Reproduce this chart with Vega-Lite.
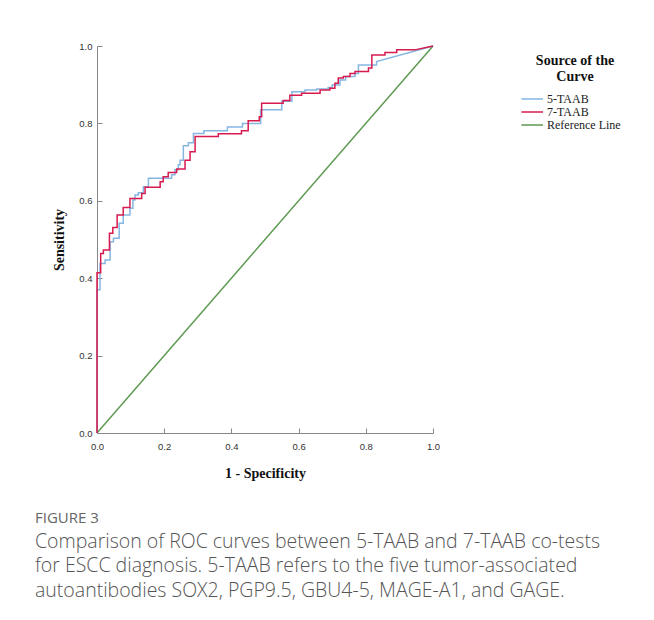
{
  "$schema": "https://vega.github.io/schema/vega-lite/v6.json",
  "width": 336,
  "height": 387,
  "autosize": "none",
  "padding": {"left": 97, "top": 46, "right": 221, "bottom": 187},
  "background": "white",
  "config": {"view": {"stroke": null}},
  "title": {
    "text": "FIGURE 3",
    "subtitle": ["Comparison of ROC curves between 5-TAAB and 7-TAAB co-tests", "for ESCC diagnosis. 5-TAAB refers to the five tumor-associated", "autoantibodies SOX2, PGP9.5, GBU4-5, MAGE-A1, and GAGE."],
    "orient": "bottom",
    "anchor": "start",
    "frame": "group",
    "dx": -62,
    "offset": 30,
    "font": "Open Sans",
    "fontSize": 15,
    "fontWeight": "normal",
    "color": "#666666",
    "subtitleFont": "Open Sans",
    "subtitleFontSize": 19.5,
    "subtitleFontWeight": 300,
    "subtitleColor": "#555555",
    "subtitleLineHeight": 24.5,
    "subtitlePadding": 7
  },
  "data": {"values": [
    {"s":"Reference Line","i":0,"x":0,"y":0},
    {"s":"Reference Line","i":1,"x":1,"y":1},
    {"s":"5-TAAB","i":0,"x":0,"y":0},
    {"s":"5-TAAB","i":1,"x":0,"y":0.370},
    {"s":"5-TAAB","i":2,"x":0.009,"y":0.370},
    {"s":"5-TAAB","i":3,"x":0.009,"y":0.438},
    {"s":"5-TAAB","i":4,"x":0.024,"y":0.438},
    {"s":"5-TAAB","i":5,"x":0.024,"y":0.447},
    {"s":"5-TAAB","i":6,"x":0.039,"y":0.447},
    {"s":"5-TAAB","i":7,"x":0.039,"y":0.494},
    {"s":"5-TAAB","i":8,"x":0.049,"y":0.494},
    {"s":"5-TAAB","i":9,"x":0.049,"y":0.503},
    {"s":"5-TAAB","i":10,"x":0.066,"y":0.503},
    {"s":"5-TAAB","i":11,"x":0.066,"y":0.542},
    {"s":"5-TAAB","i":12,"x":0.078,"y":0.542},
    {"s":"5-TAAB","i":13,"x":0.078,"y":0.563},
    {"s":"5-TAAB","i":14,"x":0.098,"y":0.563},
    {"s":"5-TAAB","i":15,"x":0.098,"y":0.581},
    {"s":"5-TAAB","i":16,"x":0.107,"y":0.581},
    {"s":"5-TAAB","i":17,"x":0.107,"y":0.602},
    {"s":"5-TAAB","i":18,"x":0.113,"y":0.602},
    {"s":"5-TAAB","i":19,"x":0.113,"y":0.615},
    {"s":"5-TAAB","i":20,"x":0.123,"y":0.615},
    {"s":"5-TAAB","i":21,"x":0.123,"y":0.621},
    {"s":"5-TAAB","i":22,"x":0.138,"y":0.621},
    {"s":"5-TAAB","i":23,"x":0.138,"y":0.636},
    {"s":"5-TAAB","i":24,"x":0.153,"y":0.636},
    {"s":"5-TAAB","i":25,"x":0.153,"y":0.658},
    {"s":"5-TAAB","i":26,"x":0.222,"y":0.658},
    {"s":"5-TAAB","i":27,"x":0.222,"y":0.667},
    {"s":"5-TAAB","i":28,"x":0.232,"y":0.667},
    {"s":"5-TAAB","i":29,"x":0.232,"y":0.680},
    {"s":"5-TAAB","i":30,"x":0.242,"y":0.680},
    {"s":"5-TAAB","i":31,"x":0.242,"y":0.693},
    {"s":"5-TAAB","i":32,"x":0.247,"y":0.693},
    {"s":"5-TAAB","i":33,"x":0.247,"y":0.705},
    {"s":"5-TAAB","i":34,"x":0.257,"y":0.705},
    {"s":"5-TAAB","i":35,"x":0.257,"y":0.742},
    {"s":"5-TAAB","i":36,"x":0.272,"y":0.742},
    {"s":"5-TAAB","i":37,"x":0.272,"y":0.750},
    {"s":"5-TAAB","i":38,"x":0.287,"y":0.750},
    {"s":"5-TAAB","i":39,"x":0.287,"y":0.774},
    {"s":"5-TAAB","i":40,"x":0.318,"y":0.774},
    {"s":"5-TAAB","i":41,"x":0.318,"y":0.781},
    {"s":"5-TAAB","i":42,"x":0.388,"y":0.781},
    {"s":"5-TAAB","i":43,"x":0.388,"y":0.791},
    {"s":"5-TAAB","i":44,"x":0.433,"y":0.791},
    {"s":"5-TAAB","i":45,"x":0.433,"y":0.800},
    {"s":"5-TAAB","i":46,"x":0.487,"y":0.800},
    {"s":"5-TAAB","i":47,"x":0.487,"y":0.835},
    {"s":"5-TAAB","i":48,"x":0.550,"y":0.835},
    {"s":"5-TAAB","i":49,"x":0.550,"y":0.857},
    {"s":"5-TAAB","i":50,"x":0.580,"y":0.857},
    {"s":"5-TAAB","i":51,"x":0.580,"y":0.882},
    {"s":"5-TAAB","i":52,"x":0.619,"y":0.882},
    {"s":"5-TAAB","i":53,"x":0.619,"y":0.886},
    {"s":"5-TAAB","i":54,"x":0.654,"y":0.886},
    {"s":"5-TAAB","i":55,"x":0.654,"y":0.889},
    {"s":"5-TAAB","i":56,"x":0.688,"y":0.889},
    {"s":"5-TAAB","i":57,"x":0.688,"y":0.893},
    {"s":"5-TAAB","i":58,"x":0.700,"y":0.893},
    {"s":"5-TAAB","i":59,"x":0.700,"y":0.899},
    {"s":"5-TAAB","i":60,"x":0.723,"y":0.899},
    {"s":"5-TAAB","i":61,"x":0.723,"y":0.912},
    {"s":"5-TAAB","i":62,"x":0.740,"y":0.912},
    {"s":"5-TAAB","i":63,"x":0.740,"y":0.921},
    {"s":"5-TAAB","i":64,"x":0.768,"y":0.921},
    {"s":"5-TAAB","i":65,"x":0.768,"y":0.929},
    {"s":"5-TAAB","i":66,"x":0.778,"y":0.929},
    {"s":"5-TAAB","i":67,"x":0.778,"y":0.951},
    {"s":"5-TAAB","i":68,"x":0.832,"y":0.951},
    {"s":"5-TAAB","i":69,"x":0.832,"y":0.960},
    {"s":"5-TAAB","i":70,"x":1,"y":1},
    {"s":"7-TAAB","i":0,"x":0,"y":0},
    {"s":"7-TAAB","i":1,"x":0,"y":0.414},
    {"s":"7-TAAB","i":2,"x":0.011,"y":0.414},
    {"s":"7-TAAB","i":3,"x":0.011,"y":0.464},
    {"s":"7-TAAB","i":4,"x":0.019,"y":0.464},
    {"s":"7-TAAB","i":5,"x":0.019,"y":0.473},
    {"s":"7-TAAB","i":6,"x":0.037,"y":0.473},
    {"s":"7-TAAB","i":7,"x":0.037,"y":0.516},
    {"s":"7-TAAB","i":8,"x":0.047,"y":0.516},
    {"s":"7-TAAB","i":9,"x":0.047,"y":0.531},
    {"s":"7-TAAB","i":10,"x":0.060,"y":0.531},
    {"s":"7-TAAB","i":11,"x":0.060,"y":0.563},
    {"s":"7-TAAB","i":12,"x":0.078,"y":0.563},
    {"s":"7-TAAB","i":13,"x":0.078,"y":0.583},
    {"s":"7-TAAB","i":14,"x":0.098,"y":0.583},
    {"s":"7-TAAB","i":15,"x":0.098,"y":0.606},
    {"s":"7-TAAB","i":16,"x":0.133,"y":0.606},
    {"s":"7-TAAB","i":17,"x":0.133,"y":0.619},
    {"s":"7-TAAB","i":18,"x":0.143,"y":0.619},
    {"s":"7-TAAB","i":19,"x":0.143,"y":0.635},
    {"s":"7-TAAB","i":20,"x":0.188,"y":0.635},
    {"s":"7-TAAB","i":21,"x":0.188,"y":0.649},
    {"s":"7-TAAB","i":22,"x":0.197,"y":0.649},
    {"s":"7-TAAB","i":23,"x":0.197,"y":0.662},
    {"s":"7-TAAB","i":24,"x":0.212,"y":0.662},
    {"s":"7-TAAB","i":25,"x":0.212,"y":0.673},
    {"s":"7-TAAB","i":26,"x":0.237,"y":0.673},
    {"s":"7-TAAB","i":27,"x":0.237,"y":0.682},
    {"s":"7-TAAB","i":28,"x":0.262,"y":0.682},
    {"s":"7-TAAB","i":29,"x":0.262,"y":0.705},
    {"s":"7-TAAB","i":30,"x":0.277,"y":0.705},
    {"s":"7-TAAB","i":31,"x":0.277,"y":0.727},
    {"s":"7-TAAB","i":32,"x":0.292,"y":0.727},
    {"s":"7-TAAB","i":33,"x":0.292,"y":0.766},
    {"s":"7-TAAB","i":34,"x":0.361,"y":0.766},
    {"s":"7-TAAB","i":35,"x":0.361,"y":0.773},
    {"s":"7-TAAB","i":36,"x":0.430,"y":0.773},
    {"s":"7-TAAB","i":37,"x":0.430,"y":0.781},
    {"s":"7-TAAB","i":38,"x":0.450,"y":0.781},
    {"s":"7-TAAB","i":39,"x":0.450,"y":0.807},
    {"s":"7-TAAB","i":40,"x":0.483,"y":0.807},
    {"s":"7-TAAB","i":41,"x":0.483,"y":0.817},
    {"s":"7-TAAB","i":42,"x":0.490,"y":0.817},
    {"s":"7-TAAB","i":43,"x":0.490,"y":0.852},
    {"s":"7-TAAB","i":44,"x":0.554,"y":0.852},
    {"s":"7-TAAB","i":45,"x":0.554,"y":0.859},
    {"s":"7-TAAB","i":46,"x":0.574,"y":0.859},
    {"s":"7-TAAB","i":47,"x":0.574,"y":0.873},
    {"s":"7-TAAB","i":48,"x":0.609,"y":0.873},
    {"s":"7-TAAB","i":49,"x":0.609,"y":0.878},
    {"s":"7-TAAB","i":50,"x":0.664,"y":0.878},
    {"s":"7-TAAB","i":51,"x":0.664,"y":0.886},
    {"s":"7-TAAB","i":52,"x":0.693,"y":0.886},
    {"s":"7-TAAB","i":53,"x":0.693,"y":0.891},
    {"s":"7-TAAB","i":54,"x":0.708,"y":0.891},
    {"s":"7-TAAB","i":55,"x":0.708,"y":0.904},
    {"s":"7-TAAB","i":56,"x":0.718,"y":0.904},
    {"s":"7-TAAB","i":57,"x":0.718,"y":0.917},
    {"s":"7-TAAB","i":58,"x":0.733,"y":0.917},
    {"s":"7-TAAB","i":59,"x":0.733,"y":0.921},
    {"s":"7-TAAB","i":60,"x":0.753,"y":0.921},
    {"s":"7-TAAB","i":61,"x":0.753,"y":0.929},
    {"s":"7-TAAB","i":62,"x":0.768,"y":0.929},
    {"s":"7-TAAB","i":63,"x":0.768,"y":0.934},
    {"s":"7-TAAB","i":64,"x":0.808,"y":0.934},
    {"s":"7-TAAB","i":65,"x":0.808,"y":0.943},
    {"s":"7-TAAB","i":66,"x":0.818,"y":0.943},
    {"s":"7-TAAB","i":67,"x":0.818,"y":0.977},
    {"s":"7-TAAB","i":68,"x":0.857,"y":0.977},
    {"s":"7-TAAB","i":69,"x":0.857,"y":0.983},
    {"s":"7-TAAB","i":70,"x":0.892,"y":0.983},
    {"s":"7-TAAB","i":71,"x":0.892,"y":0.990},
    {"s":"7-TAAB","i":72,"x":0.946,"y":0.990},
    {"s":"7-TAAB","i":73,"x":1,"y":1}
  ]},
  "mark": {"type": "line", "strokeWidth": 1.5, "clip": false},
  "encoding": {
    "x": {
      "field": "x", "type": "quantitative",
      "scale": {"domain": [0, 1], "nice": false},
      "axis": {
        "title": "1 - Specificity",
        "values": [0, 0.2, 0.4, 0.6, 0.8, 1.0],
        "format": ".1f",
        "grid": false,
        "labelFlush": false,
        "domainColor": "#888888",
        "tickColor": "#888888",
        "tickSize": -5,
        "labelPadding": 13,
        "labelFont": "Liberation Sans",
        "labelFontSize": 9.5,
        "labelColor": "#333333",
        "titleFont": "Liberation Serif",
        "titleFontSize": 14,
        "titleFontWeight": "bold",
        "titleColor": "#111111",
        "titlePadding": 16
      }
    },
    "y": {
      "field": "y", "type": "quantitative",
      "scale": {"domain": [0, 1], "nice": false},
      "axis": {
        "title": "Sensitivity",
        "values": [0, 0.2, 0.4, 0.6, 0.8, 1.0],
        "format": ".1f",
        "grid": false,
        "labelFlush": false,
        "domainColor": "#888888",
        "tickColor": "#888888",
        "tickSize": -5,
        "labelPadding": 10,
        "labelFont": "Liberation Sans",
        "labelFontSize": 9.5,
        "labelColor": "#333333",
        "titleFont": "Liberation Serif",
        "titleFontSize": 14,
        "titleFontWeight": "bold",
        "titleColor": "#111111",
        "titlePadding": 12
      }
    },
    "color": {
      "field": "s", "type": "nominal",
      "scale": {"domain": ["5-TAAB", "7-TAAB", "Reference Line"], "range": ["#86b6e2", "#d81b4f", "#5e9a52"]},
      "legend": {
        "title": ["Source of the", "Curve"],
        "orient": "none",
        "legendX": 433,
        "legendY": 8,
        "symbolType": "M-2.6,0H1",
        "symbolSize": 144,
        "symbolStrokeWidth": 1.5,
        "labelFont": "Liberation Serif",
        "labelFontSize": 12,
        "labelColor": "#222222",
        "labelOffset": 3,
        "titleFont": "Liberation Serif",
        "titleFontSize": 14,
        "titleFontWeight": "bold",
        "titleColor": "#111111",
        "titleAnchor": "middle",
        "titleAlign": "center",
        "titleLineHeight": 16,
        "titlePadding": 8,
        "rowPadding": 0
      }
    },
    "order": {"field": "i", "type": "quantitative"}
  }
}
